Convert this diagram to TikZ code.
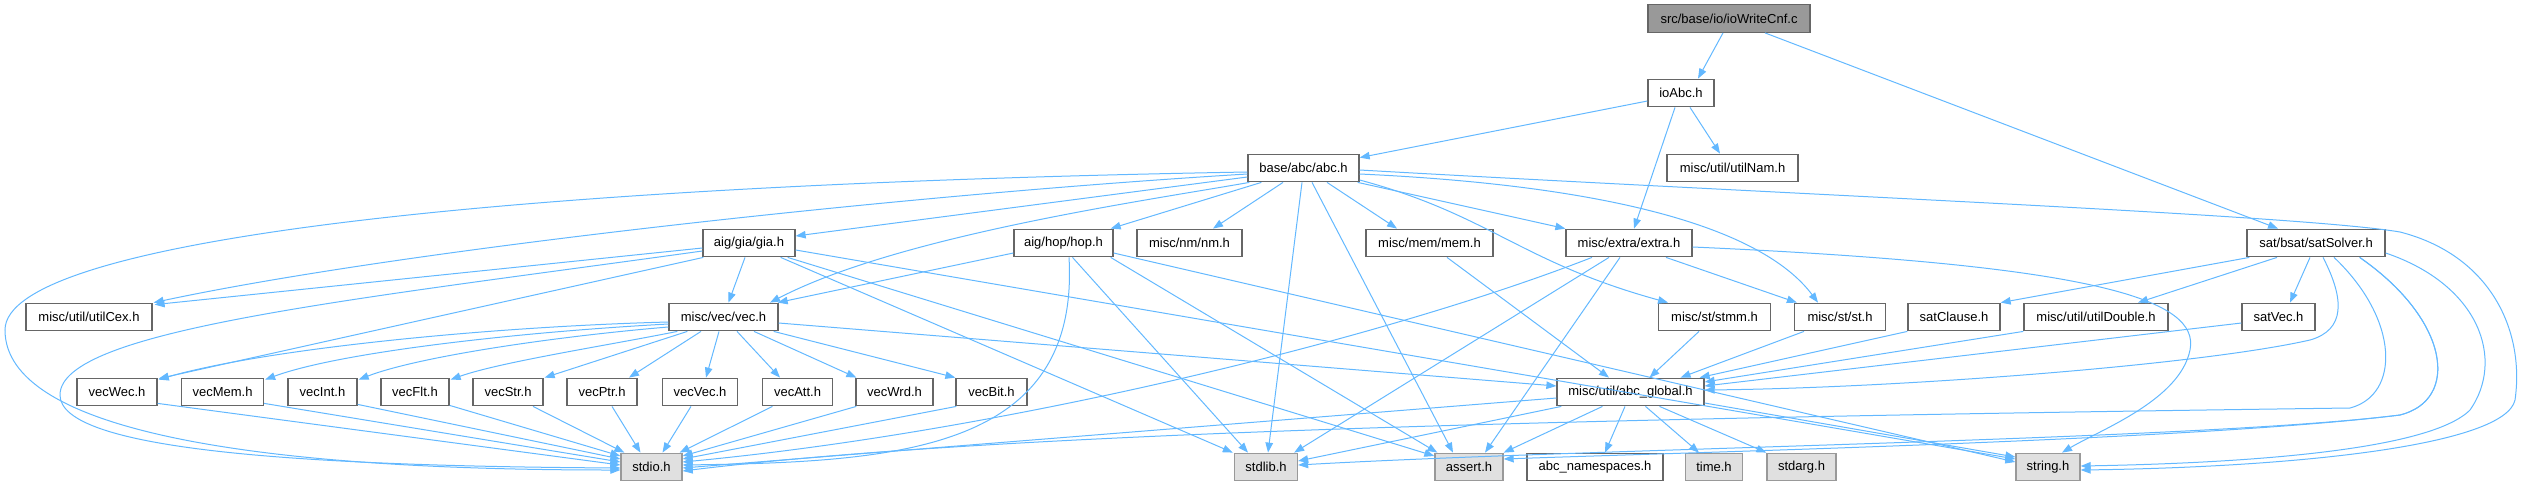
\documentclass[tikz,border=0pt]{standalone}
\usepackage{fontspec}
\setmainfont{Liberation Sans}
\usetikzlibrary{arrows.meta,calc}
\definecolor{edgec}{HTML}{63B8FF}
\definecolor{bord}{HTML}{666666}
\definecolor{sysfill}{HTML}{E0E0E0}
\definecolor{sysbord}{HTML}{999999}
\definecolor{rootfill}{HTML}{999999}
\begin{document}
\begin{tikzpicture}[x=1pt,y=-1pt,
  nd/.style={draw=bord,fill=white,line width=1.3pt,rectangle,inner sep=0pt,minimum height=27.5pt,font=\fontsize{13}{15}\selectfont},
  sys/.style={nd,draw=sysbord,fill=sysfill},
  root/.style={nd,fill=rootfill},
  ed/.style={draw=edgec,line width=1pt,-{Triangle[length=10pt,width=7.5pt]}}]
\useasboundingbox (0,0) rectangle (2523,485);
% nodes
\node[root,minimum width=162pt] (wc) at (1729,18.5) {src/base/io/ioWriteCnf.c};
\node[nd,minimum width=66pt] (ioabc) at (1681,93) {ioAbc.h};
\node[nd,minimum width=111pt] (abc) at (1303.5,168) {base/abc/abc.h};
\node[nd,minimum width=131pt] (utilnam) at (1732.5,168) {misc/util/utilNam.h};
\node[nd,minimum width=92pt] (gia) at (749,243) {aig/gia/gia.h};
\node[nd,minimum width=99pt] (hop) at (1063.5,243) {aig/hop/hop.h};
\node[nd,minimum width=105pt] (nm) at (1189.5,243) {misc/nm/nm.h};
\node[nd,minimum width=127pt] (mem) at (1429.5,243) {misc/mem/mem.h};
\node[nd,minimum width=126pt] (extra) at (1629,243) {misc/extra/extra.h};
\node[nd,minimum width=138pt] (satsolver) at (2316,243) {sat/bsat/satSolver.h};
\node[nd,minimum width=126pt] (utilcex) at (89,317) {misc/util/utilCex.h};
\node[nd,minimum width=109pt] (vec) at (723.5,317) {misc/vec/vec.h};
\node[nd,minimum width=112pt] (stmm) at (1714.5,317) {misc/st/stmm.h};
\node[nd,minimum width=91pt] (st) at (1840,317) {misc/st/st.h};
\node[nd,minimum width=92pt] (satclause) at (1954,317) {satClause.h};
\node[nd,minimum width=144pt] (utildouble) at (2096,317) {misc/util/utilDouble.h};
\node[nd,minimum width=73pt] (satvec) at (2278.5,317) {satVec.h};
\node[nd,minimum width=80pt] (vecwec) at (117,392) {vecWec.h};
\node[nd,minimum width=82pt] (vecmem) at (222.5,392) {vecMem.h};
\node[nd,minimum width=69pt] (vecint) at (322.5,392) {vecInt.h};
\node[nd,minimum width=68pt] (vecflt) at (415,392) {vecFlt.h};
\node[nd,minimum width=70pt] (vecstr) at (508,392) {vecStr.h};
\node[nd,minimum width=70pt] (vecptr) at (602,392) {vecPtr.h};
\node[nd,minimum width=75pt] (vecvec) at (700,392) {vecVec.h};
\node[nd,minimum width=70pt] (vecatt) at (797.5,392) {vecAtt.h};
\node[nd,minimum width=77pt] (vecwrd) at (894.5,392) {vecWrd.h};
\node[nd,minimum width=71pt] (vecbit) at (991.5,392) {vecBit.h};
\node[nd,minimum width=147pt] (abcglobal) at (1630.5,392) {misc/util/abc\_global.h};
\node[sys,minimum width=61pt] (stdio) at (651.5,467) {stdio.h};
\node[sys,minimum width=63pt] (stdlib) at (1266,467) {stdlib.h};
\node[sys,minimum width=68pt] (assert) at (1469,467) {assert.h};
\node[nd,minimum width=136pt] (abcns) at (1595,467) {abc\_namespaces.h};
\node[sys,minimum width=57pt] (time) at (1714,467) {time.h};
\node[sys,minimum width=69pt] (stdarg) at (1801.5,467) {stdarg.h};
\node[sys,minimum width=64pt] (string) at (2048,467) {string.h};
% root and ioAbc
\draw[ed] ($(wc.south)+(-6,0)$) -- ($(ioabc.north)+(17,0)$);
\draw[ed] ($(wc.south)+(36,0)$) -- ($(satsolver.north)+(-38,0)$);
\draw[ed] ($(ioabc.west)+(0,8)$) -- ($(abc.north east)+(0,4)$);
\draw[ed] ($(ioabc.south)+(-6,0)$) -- ($(extra.north)+(5,0)$);
\draw[ed] ($(ioabc.south)+(9,0)$) -- ($(utilnam.north)+(-12.5,0)$);
% abc.h
\draw[ed] ($(abc.west)+(0,4)$) .. controls (500,185) and (5,240) .. (5,330) .. controls (5,430) and (250,470) .. ($(stdio.west)+(0,3)$);
\draw[ed] ($(abc.west)+(0,6)$) .. controls (900,195) and (400,250) .. ($(utilcex.north east)+(1,0)$);
\draw[ed] ($(abc.west)+(0,9)$) -- ($(gia.east)+(0,-7)$);
\draw[ed] ($(abc.south west)+(2,0)$) .. controls (1150,200) and (900,235) .. ($(vec.north)+(46.5,0)$);
\draw[ed] ($(abc.south west)+(14,0)$) -- ($(hop.north east)+(-3,0)$);
\draw[ed] ($(abc.south)+(-20.5,0)$) -- ($(nm.north)+(23.5,0)$);
\draw[ed] ($(abc.south)+(-1.5,0)$) -- ($(stdlib.north)+(2,0)$);
\draw[ed] ($(abc.south)+(8.5,0)$) -- ($(assert.north)+(-16,0)$);
\draw[ed] ($(abc.south)+(23.5,0)$) -- ($(mem.north)+(-32.5,0)$);
\draw[ed] ($(abc.south east)+(-2,0)$) -- (extra.north west);
\draw[ed] ($(abc.east)+(0,12)$) .. controls (1490,215) and (1520,262) .. ($(stmm.north)+(-46.5,0)$);
\draw[ed] ($(abc.east)+(0,6)$) .. controls (1600,185) and (1760,225) .. ($(st.north)+(-22,0)$);
\draw[ed] ($(abc.east)+(0,2)$) .. controls (1800,195) and (2300,215) .. (2400,232) .. controls (2490,255) and (2525,330) .. (2515,400) .. controls (2505,445) and (2300,467) .. ($(string.east)+(0,3)$);
% gia.h
\draw[ed] ($(gia.west)+(0,5)$) -- ($(utilcex.north east)+(2,2)$);
\draw[ed] ($(gia.west)+(0,8)$) .. controls (350,300) and (60,330) .. (60,395) .. controls (60,450) and (300,466) .. ($(stdio.west)+(0,1)$);
\draw[ed] ($(gia.south west)+(1,0)$) -- ($(vecwec.north east)+(1,1)$);
\draw[ed] ($(gia.south)+(-4,0)$) -- ($(vec.north)+(5,0)$);
\draw[ed] ($(gia.south east)+(-15,0)$) -- ($(stdlib.north west)+(-1,0)$);
\draw[ed] ($(gia.south east)+(-8,0)$) -- ($(assert.west)+(0,-11)$);
\draw[ed] ($(gia.east)+(0,7)$) -- ($(string.west)+(0,-8)$);
% hop.h
\draw[ed] ($(hop.west)+(0,10)$) -- ($(vec.north east)+(-1,0)$);
\draw[ed] ($(hop.south)+(5.5,0)$) .. controls (1080,450) and (900,462) .. ($(stdio.east)+(0,-2)$);
\draw[ed] ($(hop.south)+(9,0)$) -- ($(stdlib.north)+(-18,0)$);
\draw[ed] ($(hop.south east)+(-3,0)$) -- ($(assert.north west)+(3,0)$);
\draw[ed] ($(hop.east)+(0,10)$) -- ($(string.west)+(0,-5)$);
% mem.h
\draw[ed] ($(mem.south)+(17.5,0)$) -- ($(abcglobal.north)+(-21.5,0)$);
% extra.h
\draw[ed] ($(extra.south)+(-37,0)$) .. controls (1380,340) and (1000,432) .. ($(stdio.east)+(0,-5)$);
\draw[ed] ($(extra.south)+(-20,0)$) -- ($(stdlib.north east)+(-4,0)$);
\draw[ed] ($(extra.south)+(-9,0)$) -- ($(assert.north)+(16,0)$);
\draw[ed] ($(extra.south)+(37,0)$) -- ($(st.north west)+(3,0)$);
\draw[ed] ($(extra.east)+(0,4)$) .. controls (2100,265) and (2200,300) .. (2190,350) .. controls (2180,400) and (2100,430) .. ($(string.north)+(14,0)$);
% vec.h
\draw[ed] ($(vec.west)+(0,5)$) .. controls (480,327) and (260,350) .. ($(vecwec.north east)+(1,2)$);
\draw[ed] ($(vec.west)+(0,7)$) .. controls (520,332) and (340,352) .. ($(vecmem.north east)+(1,2)$);
\draw[ed] ($(vec.west)+(0,10)$) .. controls (560,336) and (420,356) .. ($(vecint.north east)+(1,2)$);
\draw[ed] ($(vec.south west)+(9,0)$) .. controls (610,345) and (500,362) .. ($(vecflt.north east)+(1,2)$);
\draw[ed] ($(vec.south west)+(19,0)$) -- ($(vecstr.north east)+(1,0)$);
\draw[ed] ($(vec.south)+(-22.5,0)$) -- ($(vecptr.north)+(27,0)$);
\draw[ed] ($(vec.south)+(-4.5,0)$) -- ($(vecvec.north)+(6,0)$);
\draw[ed] ($(vec.south)+(13.5,0)$) -- ($(vecatt.north)+(-17.5,0)$);
\draw[ed] ($(vec.south)+(30.5,0)$) -- ($(vecwrd.north west)+(1,0)$);
\draw[ed] ($(vec.south east)+(-5,0)$) -- (vecbit.north west);
\draw[ed] ($(vec.east)+(0,6)$) -- ($(abcglobal.west)+(0,-6)$);
% vec*.h -> stdio
\draw[ed] ($(vecwec.south east)+(0,-3)$) -- ($(stdio.west)+(0,-2)$);
\draw[ed] ($(vecmem.south east)+(0,-3)$) -- ($(stdio.west)+(0,-5)$);
\draw[ed] ($(vecint.south east)+(0,-2)$) -- ($(stdio.west)+(0,-8)$);
\draw[ed] ($(vecflt.south east)+(0,-1)$) -- ($(stdio.west)+(0,-11)$);
\draw[ed] ($(vecstr.south)+(25,0)$) -- ($(stdio.north west)+(4,0)$);
\draw[ed] ($(vecptr.south)+(10,0)$) -- ($(stdio.north)+(-11,0)$);
\draw[ed] ($(vecvec.south)+(-9,0)$) -- ($(stdio.north)+(11,0)$);
\draw[ed] ($(vecatt.south)+(-25,0)$) -- ($(stdio.north east)+(-3,0)$);
\draw[ed] ($(vecwrd.south west)+(1,0)$) -- ($(stdio.east)+(0,-11)$);
\draw[ed] ($(vecbit.south west)+(1,0)$) -- ($(stdio.east)+(0,-8)$);
% abc_global.h
\draw[ed] ($(abcglobal.west)+(0,6)$) -- ($(stdio.east)+(0,1)$);
\draw[ed] ($(abcglobal.south west)+(5,0)$) -- ($(stdlib.east)+(0,-6)$);
\draw[ed] ($(abcglobal.south)+(-28,0)$) -- (assert.north east);
\draw[ed] ($(abcglobal.south)+(-5.5,0)$) -- ($(abcns.north)+(10,0)$);
\draw[ed] ($(abcglobal.south)+(15,0)$) -- ($(time.north)+(-15,0)$);
\draw[ed] ($(abcglobal.south)+(29,0)$) -- (stdarg.north west);
\draw[ed] ($(abcglobal.east)+(0,11)$) -- ($(string.west)+(0,-10)$);
% row 4 -> abc_global
\draw[ed] ($(stmm.south)+(-15.5,0)$) -- ($(abcglobal.north)+(19,0)$);
\draw[ed] ($(st.south)+(-36,0)$) -- ($(abcglobal.north)+(50,0)$);
\draw[ed] (satclause.south west) -- ($(abcglobal.north east)+(-5,0)$);
\draw[ed] (utildouble.south west) -- ($(abcglobal.east)+(0,-10)$);
\draw[ed] ($(satvec.west)+(0,6)$) -- ($(abcglobal.east)+(0,-6)$);
% satSolver.h
\draw[ed] ($(satsolver.south west)+(3,0)$) -- (satclause.north east);
\draw[ed] ($(satsolver.south)+(-39,0)$) -- ($(utildouble.north)+(42,0)$);
\draw[ed] ($(satsolver.south)+(-6,0)$) -- ($(satvec.north)+(11.5,0)$);
\draw[ed] ($(satsolver.south)+(7,0)$) .. controls (2345,300) and (2345,330) .. (2310,340) .. controls (2200,365) and (1900,388) .. ($(abcglobal.east)+(0,-2)$);
\draw[ed] ($(satsolver.south)+(18,0)$) .. controls (2400,320) and (2400,395) .. (2350,408) .. controls (1600,418) and (1000,432) .. ($(stdio.east)+(0,4)$);
\draw[ed] ($(satsolver.south east)+(-26,0)$) .. controls (2450,320) and (2460,400) .. (2400,415) .. controls (2200,440) and (1600,448) .. ($(stdlib.east)+(0,-2)$);
\draw[ed] ($(satsolver.south east)+(-26,0)$) .. controls (2450,320) and (2460,400) .. (2400,415) .. controls (2200,440) and (1700,452) .. ($(assert.east)+(0,-8)$);
\draw[ed] ($(satsolver.east)+(0,10)$) .. controls (2480,285) and (2505,360) .. (2470,410) .. controls (2430,450) and (2250,463) .. ($(string.east)+(0,-1)$);
\end{tikzpicture}
\end{document}
